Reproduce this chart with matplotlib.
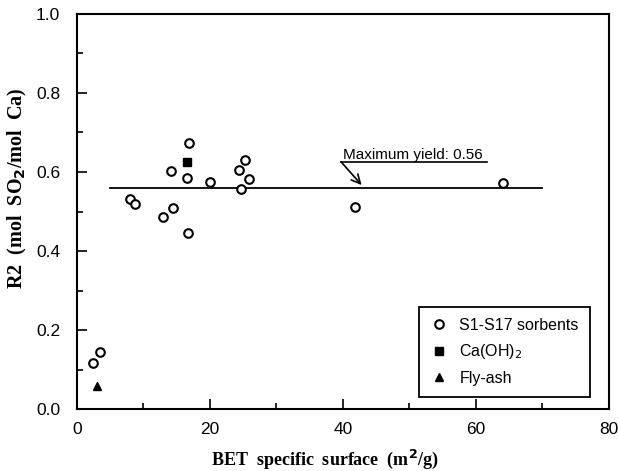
import matplotlib.pyplot as plt
from matplotlib.ticker import MultipleLocator

# S1-S17 sorbents (BET surface m2/g, R2 mol SO2/mol Ca)
sorb_bet = [2.4, 3.4, 8.0, 8.7, 13.0, 14.4, 14.1, 16.7, 16.5, 16.8, 20.0,
            24.4, 25.3, 25.8, 24.7, 41.8, 64.1]
sorb_r2 = [0.116, 0.144, 0.532, 0.518, 0.487, 0.510, 0.603, 0.445, 0.584,
           0.673, 0.575, 0.605, 0.631, 0.583, 0.556, 0.512, 0.573]
caoh_bet = [16.6]
caoh_r2 = [0.625]
ash_bet = [3.05]
ash_r2 = [0.059]
max_yield = 0.56
max_range = [5.0, 70.0]

plt.rcParams["font.family"] = ["Liberation Sans", "DejaVu Sans"]

fig = plt.figure(figsize=(6.19, 4.71), dpi=100)
ax = fig.add_axes([0.1244, 0.1316, 0.8594, 0.8387])

ax.plot(max_range, [max_yield, max_yield], color="black", lw=1.3, zorder=1)
ax.plot(sorb_bet, sorb_r2, "o", ms=6.2, mfc="white", mec="black", mew=1.5,
        ls="none", label="S1-S17 sorbents", zorder=3)
ax.plot(caoh_bet, caoh_r2, "s", ms=5.5, color="black", ls="none",
        label="Ca(OH)$_2$", zorder=3)
ax.plot(ash_bet, ash_r2, "^", ms=6, color="black", ls="none",
        label="Fly-ash", zorder=3)

# annotation: underlined text with arrow down to the line
ax.text(40.0, 0.633, "Maximum yield: 0.56", fontsize=11, ha="left", va="baseline")
ax.plot([39.7, 61.7], [0.626, 0.626], color="black", lw=1.2)
ax.annotate("", xy=(42.8, 0.567), xytext=(39.7, 0.626),
            arrowprops=dict(arrowstyle="->", lw=1.2, color="black",
                            shrinkA=0, shrinkB=0, mutation_scale=16))

ax.set_xlim(0, 80)
ax.set_ylim(0, 1.0)
ax.xaxis.set_major_locator(MultipleLocator(20))
ax.xaxis.set_minor_locator(MultipleLocator(10))
ax.yaxis.set_major_locator(MultipleLocator(0.2))
ax.yaxis.set_minor_locator(MultipleLocator(0.1))
ax.yaxis.set_major_formatter(plt.FormatStrFormatter("%.1f"))
ax.tick_params(which="both", direction="in", top=False, right=False,
               labelsize=12.5, width=1.2)
ax.tick_params(axis="x", which="major", length=7, pad=9)
ax.tick_params(axis="y", which="major", length=7, pad=12)
ax.tick_params(which="minor", length=4)
for s in ax.spines.values():
    s.set_linewidth(1.5)

ax.set_xlabel("BET  specific  surface  (m$^\\mathbf{2}$/g)", fontsize=13,
              fontweight="bold", family="Liberation Serif")
ax.xaxis.set_label_coords(0.465, -0.098)
ax.set_ylabel("R2  (mol  SO$_\\mathbf{2}$/mol  Ca)", fontsize=14.5,
              fontweight="bold", family="Liberation Serif")
ax.yaxis.set_label_coords(-0.09, 0.56)

leg = ax.legend(loc="lower right", bbox_to_anchor=(0.964, 0.030),
                borderaxespad=0, fancybox=False, edgecolor="black",
                framealpha=1, fontsize=11.5, handlelength=1.0,
                handletextpad=0.8, borderpad=0.7, labelspacing=0.6)
leg.get_frame().set_linewidth(1.3)

fig.savefig("out.png", dpi=100)
